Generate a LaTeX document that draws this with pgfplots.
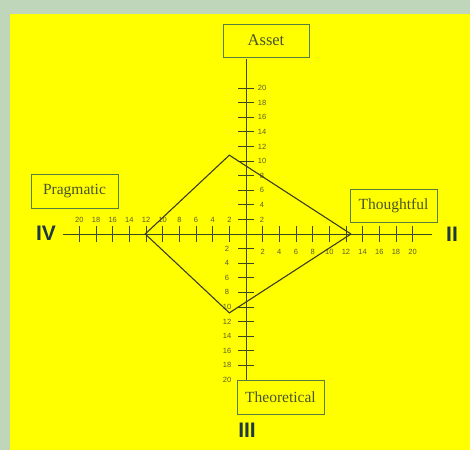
\documentclass[border=0pt]{standalone}
\usepackage{fontspec}
\setmainfont{Liberation Serif}
\newfontfamily\sansf{Liberation Sans}
\usepackage{pgfplots}
\pgfplotsset{compat=1.18}
\definecolor{bordercol}{RGB}{192,214,186}
\definecolor{bgyellow}{RGB}{255,255,0}
\definecolor{axiscol}{RGB}{62,72,32}
\definecolor{diamondcol}{RGB}{60,62,36}
\definecolor{tickcol}{RGB}{92,94,44}
\definecolor{boxcol}{RGB}{84,128,60}
\definecolor{boxtext}{RGB}{72,84,40}
\definecolor{numcol}{RGB}{30,56,70}
\begin{document}
\begin{tikzpicture}[x=1pt,y=1pt]
\useasboundingbox (0,0) rectangle (470,-450);
\fill[bordercol] (0,0) rectangle (470,-450);
\fill[bgyellow] (10,-14) rectangle (470,-450);
\begin{axis}[
  at={(246pt,-234pt)}, anchor=origin,
  x=8.33pt, y=7.3pt,
  xmin=-22, xmax=22.3, ymin=-20.2, ymax=24,
  axis lines=middle,
  axis line style={-, color=axiscol, line width=0.9pt},
  tick style={color=axiscol, line width=0.8pt},
  major tick length=16pt, tick align=center,
  /pgf/number format/assume math mode=true,
  tick label style={font=\sansf\fontsize{7.5}{7.5}\selectfont, text=tickcol},
  xtick={2,4,...,20},
  xticklabel style={anchor=center, yshift=-10pt},
  extra x ticks={-20,-18,...,-2},
  extra x tick labels={20,18,16,14,12,10,8,6,4,2},
  extra x tick style={xticklabel style={anchor=center, yshift=32pt}},
  ytick={2,4,...,20},
  yticklabel style={anchor=center, xshift=24pt},
  extra y ticks={-20,-18,...,-2},
  extra y tick labels={20,18,16,14,12,10,8,6,4,2},
  extra y tick style={yticklabel style={anchor=center, xshift=-35pt}},
]
\addplot[color=diamondcol, line width=1.1pt, mark=none] coordinates {
  (12.6,0) (-2,10.8) (-12.1,0) (-2,-10.8) (12.6,0)
};
\end{axis}
\begin{scope}[every node/.style={text=boxtext, font=\fontsize{15.5}{16}\selectfont}]
\draw[boxcol, line width=0.9pt, fill=bgyellow] (223,-24) rectangle (309,-57);
\node at (266,-40.5) {\fontsize{16.5}{17}\selectfont Asset};
\draw[boxcol, line width=0.9pt, fill=bgyellow] (31,-174) rectangle (118,-208);
\node at (74.5,-191) {Pragmatic};
\draw[boxcol, line width=0.9pt, fill=bgyellow] (350,-189) rectangle (437,-222);
\node at (393.5,-205.5) {Thoughtful};
\draw[boxcol, line width=0.9pt, fill=bgyellow] (237,-380) rectangle (324,-414);
\node at (280.5,-397) {Theoretical};
\end{scope}
\begin{scope}[every node/.style={text=numcol, font=\sansf\bfseries\fontsize{21}{21}\selectfont}]
\node at (46,-233) {IV};
\node at (452,-234) {II};
\node at (247,-430) {III};
\end{scope}
\end{tikzpicture}
\end{document}
